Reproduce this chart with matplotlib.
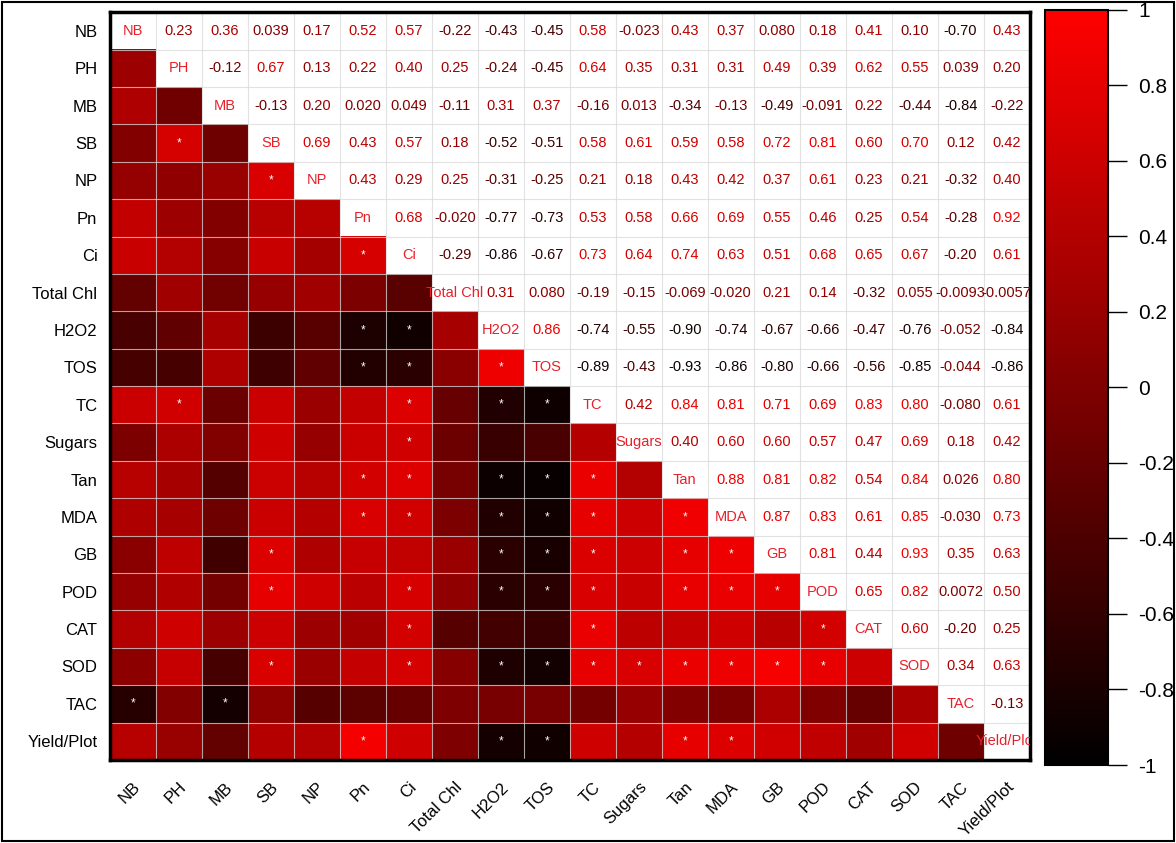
import numpy as np
import matplotlib
matplotlib.use("Agg")
from matplotlib import pyplot as plt
from matplotlib.colors import LinearSegmentedColormap
from matplotlib.patches import Rectangle

plt.rcParams['font.family'] = ['Liberation Sans', 'DejaVu Sans']

labels = ['NB', 'PH', 'MB', 'SB', 'NP', 'Pn', 'Ci', 'Total Chl', 'H2O2', 'TOS',
          'TC', 'Sugars', 'Tan', 'MDA', 'GB', 'POD', 'CAT', 'SOD', 'TAC', 'Yield/Plot']

# upper triangle of the correlation matrix, row by row (right of the diagonal)
upper_rows = [
    [0.23, 0.36, 0.039, 0.17, 0.52, 0.57, -0.22, -0.43, -0.45, 0.58, -0.023, 0.43, 0.37, 0.080, 0.18, 0.41, 0.10, -0.70, 0.43],
    [-0.12, 0.67, 0.13, 0.22, 0.40, 0.25, -0.24, -0.45, 0.64, 0.35, 0.31, 0.31, 0.49, 0.39, 0.62, 0.55, 0.039, 0.20],
    [-0.13, 0.20, 0.020, 0.049, -0.11, 0.31, 0.37, -0.16, 0.013, -0.34, -0.13, -0.49, -0.091, 0.22, -0.44, -0.84, -0.22],
    [0.69, 0.43, 0.57, 0.18, -0.52, -0.51, 0.58, 0.61, 0.59, 0.58, 0.72, 0.81, 0.60, 0.70, 0.12, 0.42],
    [0.43, 0.29, 0.25, -0.31, -0.25, 0.21, 0.18, 0.43, 0.42, 0.37, 0.61, 0.23, 0.21, -0.32, 0.40],
    [0.68, -0.020, -0.77, -0.73, 0.53, 0.58, 0.66, 0.69, 0.55, 0.46, 0.25, 0.54, -0.28, 0.92],
    [-0.29, -0.86, -0.67, 0.73, 0.64, 0.74, 0.63, 0.51, 0.68, 0.65, 0.67, -0.20, 0.61],
    [0.31, 0.080, -0.19, -0.15, -0.069, -0.020, 0.21, 0.14, -0.32, 0.055, -0.0093, -0.0057],
    [0.86, -0.74, -0.55, -0.90, -0.74, -0.67, -0.66, -0.47, -0.76, -0.052, -0.84],
    [-0.89, -0.43, -0.93, -0.86, -0.80, -0.66, -0.56, -0.85, -0.044, -0.86],
    [0.42, 0.84, 0.81, 0.71, 0.69, 0.83, 0.80, -0.080, 0.61],
    [0.40, 0.60, 0.60, 0.57, 0.47, 0.69, 0.18, 0.42],
    [0.88, 0.81, 0.82, 0.54, 0.84, 0.026, 0.80],
    [0.87, 0.83, 0.61, 0.85, -0.030, 0.73],
    [0.81, 0.44, 0.93, 0.35, 0.63],
    [0.65, 0.82, 0.0072, 0.50],
    [0.60, -0.20, 0.25],
    [0.34, 0.63],
    [-0.13],
]

# significant pairs (marked with * in the lower triangle)
significant = {
    'SB': ['PH'],
    'NP': ['SB'],
    'Ci': ['Pn'],
    'H2O2': ['Pn', 'Ci'],
    'TOS': ['Pn', 'Ci', 'H2O2'],
    'TC': ['PH', 'Ci', 'H2O2', 'TOS'],
    'Sugars': ['Ci'],
    'Tan': ['Pn', 'Ci', 'H2O2', 'TOS', 'TC'],
    'MDA': ['Pn', 'Ci', 'H2O2', 'TOS', 'TC', 'Tan'],
    'GB': ['SB', 'H2O2', 'TOS', 'TC', 'Tan', 'MDA'],
    'POD': ['SB', 'Ci', 'H2O2', 'TOS', 'TC', 'Tan', 'MDA', 'GB'],
    'CAT': ['Ci', 'TC', 'POD'],
    'SOD': ['SB', 'Ci', 'H2O2', 'TOS', 'TC', 'Sugars', 'Tan', 'MDA', 'GB', 'POD'],
    'TAC': ['NB', 'MB'],
    'Yield/Plot': ['Pn', 'H2O2', 'TOS', 'Tan', 'MDA'],
}

n = len(labels)
corr = np.eye(n)
for i, row in enumerate(upper_rows):
    for k, v in enumerate(row):
        j = i + 1 + k
        corr[i, j] = v
        corr[j, i] = v

cmap = LinearSegmentedColormap.from_list('blackred', ['#000000', '#ff0000'])

fig = plt.figure(figsize=(11.76, 8.43), dpi=100)
ax = fig.add_axes([0.0935, 0.0985, 0.782, 0.887])
cax = fig.add_axes([0.8886, 0.0925, 0.0536, 0.896])

lower = np.ma.masked_where(np.triu(np.ones((n, n), dtype=bool)), corr)
im = ax.imshow(lower, cmap=cmap, vmin=-1, vmax=1, aspect='auto', interpolation='nearest')
ax.set_facecolor('white')

ax.set_xticks(np.arange(n))
ax.set_yticks(np.arange(n))
ax.set_xticklabels(labels, rotation=45, ha='right', va='top', rotation_mode='anchor', fontsize=12)
ax.set_yticklabels(labels, fontsize=12)
ax.tick_params(length=0)
ax.tick_params(axis='y', pad=9)
ax.tick_params(axis='x', pad=14)
ax.set_xticks(np.arange(-0.5, n, 1), minor=True)
ax.set_yticks(np.arange(-0.5, n, 1), minor=True)
ax.tick_params(which='minor', length=0)
ax.grid(which='minor', color='#d9d9d9', linewidth=0.8, alpha=0.75)
ax.grid(which='major', visible=False)
for s in ax.spines.values():
    s.set_linewidth(2.5)

for i in range(n):
    for j in range(n):
        if i == j:
            ax.text(j, i, labels[i], ha='center', va='center', fontsize=10.5,
                    color='#e8202a', clip_on=True)
        elif j > i:
            ax.text(j, i, '%#.2g' % corr[i, j], ha='center', va='center',
                    fontsize=10.5, color=cmap((corr[i, j] + 1) / 2))

for row_name, cols in significant.items():
    i = labels.index(row_name)
    for c in cols:
        j = labels.index(c)
        ax.text(j, i, '*', ha='center', va='center', fontsize=8.5, color='white')

cb = fig.colorbar(im, cax=cax, ticks=np.linspace(-1, 1, 11))
cb.ax.set_yticklabels(['%g' % t for t in np.round(np.linspace(-1, 1, 11), 1)], fontsize=15)
cb.ax.tick_params(length=14, width=1, pad=8)
cb.outline.set_linewidth(1.5)

fig.patches.append(Rectangle((0.002, 0.002), 0.996, 0.996, transform=fig.transFigure,
                             fill=False, edgecolor='black', linewidth=1.5))

fig.savefig('out.png', dpi=100)
